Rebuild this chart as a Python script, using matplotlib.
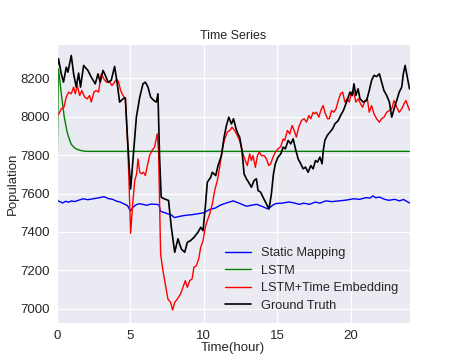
import matplotlib
matplotlib.use("Agg")
import matplotlib.pyplot as plt
import seaborn as sns

# hours / population
truth_t = [0.0, 0.11, 0.3, 0.45, 0.64, 0.75, 0.98, 1.14, 1.32, 1.48, 1.61, 1.82, 2.11, 2.34,
           2.61, 2.8, 2.95, 3.14, 3.3, 3.48, 3.7, 3.93, 4.11, 4.27, 4.5, 4.66, 4.8, 5.02, 5.23,
           5.41, 5.64, 5.86, 6.02, 6.2, 6.38, 6.6, 6.77, 6.88, 6.99, 7.1, 7.33, 7.6, 7.79, 8.02,
           8.24, 8.47, 8.7, 8.88, 9.1, 9.33, 9.6, 9.79, 9.95, 10.1, 10.24, 10.47, 10.58, 10.81,
           10.97, 11.2, 11.38, 11.54, 11.7, 11.88, 12.02, 12.2, 12.3, 12.44, 12.6, 12.74, 12.9,
           13.05, 13.24, 13.42, 13.58, 13.69, 13.87, 14.03, 14.26, 14.44, 14.6, 14.74, 14.87,
           15.05, 15.24, 15.4, 15.55, 15.74, 15.92, 16.08, 16.24, 16.42, 16.6, 16.76, 16.92,
           17.1, 17.28, 17.44, 17.6, 17.74, 17.9, 18.05, 18.13, 18.24, 18.4, 18.58, 18.76,
           18.92, 19.15, 19.31, 19.5, 19.67, 19.83, 19.95, 20.1, 20.22, 20.35, 20.5, 20.63,
           20.85, 21.08, 21.26, 21.42, 21.58, 21.76, 21.95, 22.1, 22.26, 22.45, 22.63, 22.79,
           22.95, 23.13, 23.3, 23.47, 23.58, 23.7, 23.85, 24.0]
truth_v = [8250, 8303, 8224, 8181, 8259, 8233, 8320, 8224, 8155, 8228, 8155, 8268, 8242, 8207,
           8172, 8224, 8181, 8242, 8216, 8181, 8190, 8263, 8172, 8077, 8094, 8099, 7894, 7624, 7823,
           7998, 8102, 8172, 8181, 8155, 8103, 8085, 8077, 8120, 7790, 7581, 7572, 7564, 7424, 7294,
           7364, 7311, 7294, 7346, 7355, 7372, 7398, 7424, 7407, 7529, 7659, 7685, 7711, 7694,
           7746, 7798, 7894, 7955, 7998, 7963, 7990, 7937, 7915, 7894, 7824, 7703, 7677,
           7659, 7633, 7668, 7677, 7616, 7607, 7581, 7546, 7520, 7598, 7703, 7755,
           7790, 7807, 7842, 7833, 7877, 7859, 7885, 7833, 7781, 7755, 7729, 7738,
           7711, 7746, 7729, 7772, 7764, 7790, 7755, 7824, 7877, 7903, 7920, 7937,
           7963, 7981, 8007, 8033, 8068, 8103, 8129, 8111, 8172, 8111, 8146, 8094,
           8077, 8085, 8137, 8190, 8216, 8210, 8224, 8181, 8137, 8111, 8077, 7998,
           8042, 8085, 8129, 8155, 8224, 8268, 8207, 8146]

embed_t = [0.0, 0.11, 0.3, 0.48, 0.64, 0.8, 0.98, 1.14, 1.25, 1.39, 1.55, 1.7, 1.89, 2.07, 2.23,
           2.34, 2.52, 2.68, 2.84, 3.02, 3.2, 3.36, 3.59, 3.75, 3.93, 4.07, 4.2, 4.34, 4.5, 4.66,
           4.8, 4.9, 5.02, 5.16, 5.3, 5.43, 5.52, 5.64, 5.75, 5.89, 6.02, 6.16, 6.31, 6.47, 6.65,
           6.83, 6.92, 6.99, 7.06, 7.22, 7.38, 7.56, 7.74, 7.88, 8.02, 8.2, 8.42, 8.58, 8.74, 8.88,
           9.04, 9.2, 9.33, 9.49, 9.65, 9.79, 9.95, 10.1, 10.24, 10.4, 10.58, 10.74, 10.92, 11.08,
           11.24, 11.42, 11.6, 11.77, 11.92, 12.1, 12.28, 12.44, 12.6, 12.78, 12.96, 13.12, 13.24,
           13.35, 13.51, 13.65, 13.78, 13.92, 14.1, 14.26, 14.42, 14.55, 14.71, 14.87, 15.05,
           15.24, 15.4, 15.51, 15.69, 15.85, 16.01, 16.15, 16.3, 16.46, 16.65, 16.83, 16.99,
           17.15, 17.28, 17.44, 17.55, 17.67, 17.83, 17.96, 18.12, 18.24, 18.42, 18.54, 18.7,
           18.85, 19.0, 19.15, 19.31, 19.45, 19.6, 19.76, 19.9, 20.06, 20.17, 20.35, 20.51,
           20.67, 20.81, 20.97, 21.13, 21.26, 21.42, 21.58, 21.76, 21.95, 22.1, 22.26, 22.45,
           22.63, 22.79, 22.95, 23.13, 23.3, 23.47, 23.63, 23.76, 23.92, 24.0]
embed_v = [8012, 8012, 8042, 8050, 8103, 8129, 8120, 8155, 8120, 8163, 8111, 8137, 8103, 8094, 8111,
           8077, 8129, 8137, 8129, 8224, 8198, 8181, 8181, 8163, 8181, 8198, 8181, 8137, 8111, 8094,
           7894, 7685, 7393, 7546, 7668, 7703, 7781, 7711, 7703, 7711, 7694, 7746, 7798, 7824, 7842,
           7911, 7824, 7564, 7285, 7198, 7129, 7050, 7033, 6993, 7033, 7050, 7077, 7111, 7146, 7111,
           7146, 7155, 7216, 7224, 7259, 7320, 7355, 7424, 7459, 7494, 7546, 7616, 7668, 7737,
           7824, 7885, 7920, 7929, 7946, 7929, 7903, 7877, 7824, 7781, 7746, 7807, 7772,
           7798, 7737, 7798, 7816, 7798, 7798, 7781, 7746, 7755, 7790, 7816, 7833,
           7845, 7885, 7877, 7929, 7911, 7955, 7929, 7894, 7946, 7981, 7990, 7972,
           8007, 7990, 8024, 8016, 8024, 7998, 8033, 8059, 8024, 7990, 7990, 8033,
           8024, 8042, 8085, 8120, 8129, 8077, 8094, 8077, 8129, 8137, 8077, 8094,
           8068, 8050, 8085, 8094, 8024, 8059, 8016, 7990, 7972, 7990, 7998, 8024,
           8033, 8042, 8085, 8050, 8024, 8042, 8068, 8085, 8050, 8033]

lstm_t = [0.0, 0.1, 0.2, 0.3, 0.4, 0.5, 0.6, 0.7, 0.8, 0.9, 1.0, 1.2, 1.4, 1.6, 1.8, 2.0, 24.0]
lstm_v = [7600, 8250, 8190, 8120, 8060, 8000, 7960, 7920, 7895, 7872, 7855, 7838, 7830, 7825,
          7822, 7820, 7820]

static_t = [0.0, 0.2, 0.4, 0.6, 0.8, 1.0, 1.2, 1.5, 1.8, 2.1, 2.4, 2.7, 3.0, 3.2, 3.5, 3.8, 4.0,
            4.3, 4.6, 4.8, 5.0, 5.2, 5.4, 5.6, 5.9, 6.1, 6.4, 6.8, 6.95, 7.05, 7.5, 7.8, 8.0, 8.4,
            8.8, 9.2, 9.7, 10.0, 10.4, 10.8, 11.1, 11.5, 12.0, 12.4, 12.9, 13.3, 13.6, 14.0, 14.37,
            14.7, 14.9, 15.3, 15.8, 16.1, 16.5, 16.8, 17.2, 17.6, 17.9, 18.3, 18.7, 19.2, 19.7,
            20.2, 20.6, 21.06, 21.3, 21.5, 21.7, 21.96, 22.3, 22.6, 23.0, 23.3, 23.6, 24.0]
static_v = [7565, 7558, 7551, 7560, 7555, 7562, 7558, 7566, 7573, 7568, 7572, 7576, 7580, 7584,
            7574, 7570, 7562, 7556, 7545, 7538, 7510, 7530, 7542, 7547, 7543, 7539, 7545, 7544,
            7540, 7508, 7496, 7488, 7475, 7482, 7487, 7490, 7496, 7500, 7517, 7525, 7539, 7550,
            7562, 7550, 7534, 7540, 7544, 7532, 7520, 7540, 7548, 7550, 7556, 7552, 7544, 7550,
            7544, 7556, 7550, 7562, 7558, 7562, 7566, 7573, 7570, 7579, 7576, 7588, 7578, 7582,
            7570, 7565, 7570, 7562, 7569, 7551]

sns.set_style("darkgrid")
plt.rcParams["font.family"] = ["Liberation Sans", "DejaVu Sans"]
plt.rcParams["text.color"] = ".15"
plt.rcParams["axes.labelcolor"] = ".15"

fig, ax = plt.subplots(figsize=(4.55, 3.63), dpi=100)
ax.plot(static_t, static_v, color="blue", lw=1.0, label="Static Mapping")
ax.plot(lstm_t, lstm_v, color="green", lw=1.0, label="LSTM")
ax.plot(embed_t, embed_v, color="red", lw=1.0, label="LSTM+Time Embedding")
ax.plot(truth_t, truth_v, color="black", lw=1.2, label="Ground Truth")

ax.set_xlim(0, 24)
ax.set_ylim(6925, 8382)
ax.set_xticks([0, 5, 10, 15, 20])
ax.set_yticks([7000, 7200, 7400, 7600, 7800, 8000, 8200])
ax.tick_params(labelsize=9.5, colors=".15", length=0, pad=5)
ax.set_title("Time Series", fontsize=9, pad=3)
ax.set_xlabel("Time(hour)", fontsize=9.5, labelpad=0)
ax.set_ylabel("Population", fontsize=9.5, labelpad=1)
ax.legend(loc="lower right", frameon=False, fontsize=9.2, handlelength=2.0,
          labelspacing=0.42, bbox_to_anchor=(1.0, 0.0))

fig.savefig("out.png", dpi=100)
